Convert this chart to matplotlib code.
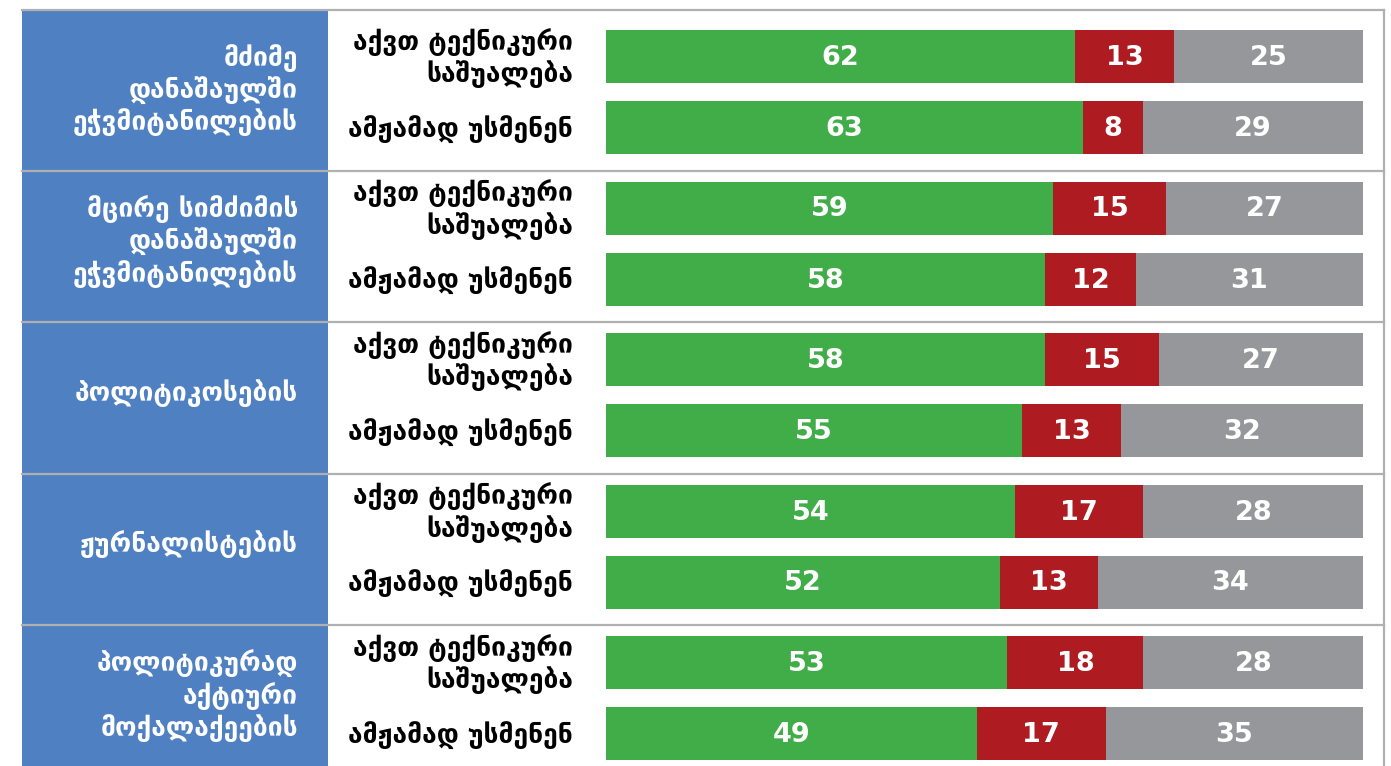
import matplotlib.pyplot as plt
from matplotlib.patches import Rectangle

groups = ["მძიმე\nდანაშაულში\nეჭვმიტანილების",
          "მცირე სიმძიმის\nდანაშაულში\nეჭვმიტანილების",
          "პოლიტიკოსების",
          "ჟურნალისტების",
          "პოლიტიკურად\nაქტიური\nმოქალაქეების"]
rows = ["აქვთ ტექნიკური\nსაშუალება", "ამჟამად უსმენენ"]

# [group][row]
yes = [[62, 63], [59, 58], [58, 55], [54, 52], [53, 49]]
no = [[13, 8], [15, 12], [15, 13], [17, 13], [18, 17]]
dk = [[25, 29], [27, 31], [27, 32], [28, 34], [28, 35]]

green = '#41ad49'
red = '#ae1b20'
gray = '#96979b'
blue = '#4f81c2'
line = '#b0b0b0'

W, H = 1391, 766
fig = plt.figure(figsize=(W / 100, H / 100), dpi=100)
plt.rcParams['font.family'] = ['DejaVu Sans']

# layout in pixels
x0, x1 = 22, 1384
top = 10
start, step = 19, 151.5
offs = [37.5, 108.5]
bh = 53
ng = len(groups)

bg = fig.add_axes([0, 0, 1, 1])
bg.set_xlim(0, W)
bg.set_ylim(H, 0)
bg.axis('off')
bg.add_patch(Rectangle((x0, top), 328 - x0, H, color=blue, lw=0, zorder=1))
bg.plot([x0, x1], [top, top], color=line, lw=1.6, zorder=2)
for g in range(1, ng):
    yy = start + step * g
    bg.plot([x0, x1], [yy, yy], color=line, lw=1.6, zorder=2)
bg.plot([x1, x1], [top, H], color=line, lw=1.6, zorder=2)

for g, name in enumerate(groups):
    bg.text(298, start + step * g + 71, name, color='white', fontsize=19,
            fontweight='bold', ha='right', va='center', linespacing=1.2, zorder=3)

# bar area
ax = fig.add_axes([606 / W, 0, 757 / W, 1])
ax.set_xlim(0, 100)
ax.set_ylim(H, 0)
ax.axis('off')

for g in range(ng):
    for r in range(2):
        y = start + step * g + offs[r]
        a, b, c = yes[g][r], no[g][r], dk[g][r]
        ax.barh(y, a, height=bh, color=green, lw=0)
        ax.barh(y, b, left=a, height=bh, color=red, lw=0)
        # published figures are rounded, last segment fills to 100
        ax.barh(y, 100 - a - b, left=a + b, height=bh, color=gray, lw=0)
        for v, xs, w in [(a, 0, a), (b, a, b), (c, a + b, 100 - a - b)]:
            ax.text(xs + w / 2, y + 1.5, str(v), color='white', fontsize=19.5,
                    fontweight='bold', ha='center', va='center')
        bg.text(573, y + 1.5, rows[r], color='black', fontsize=19,
                fontweight='bold', ha='right', va='center', linespacing=1.2)

fig.savefig('out.png', dpi=100)
